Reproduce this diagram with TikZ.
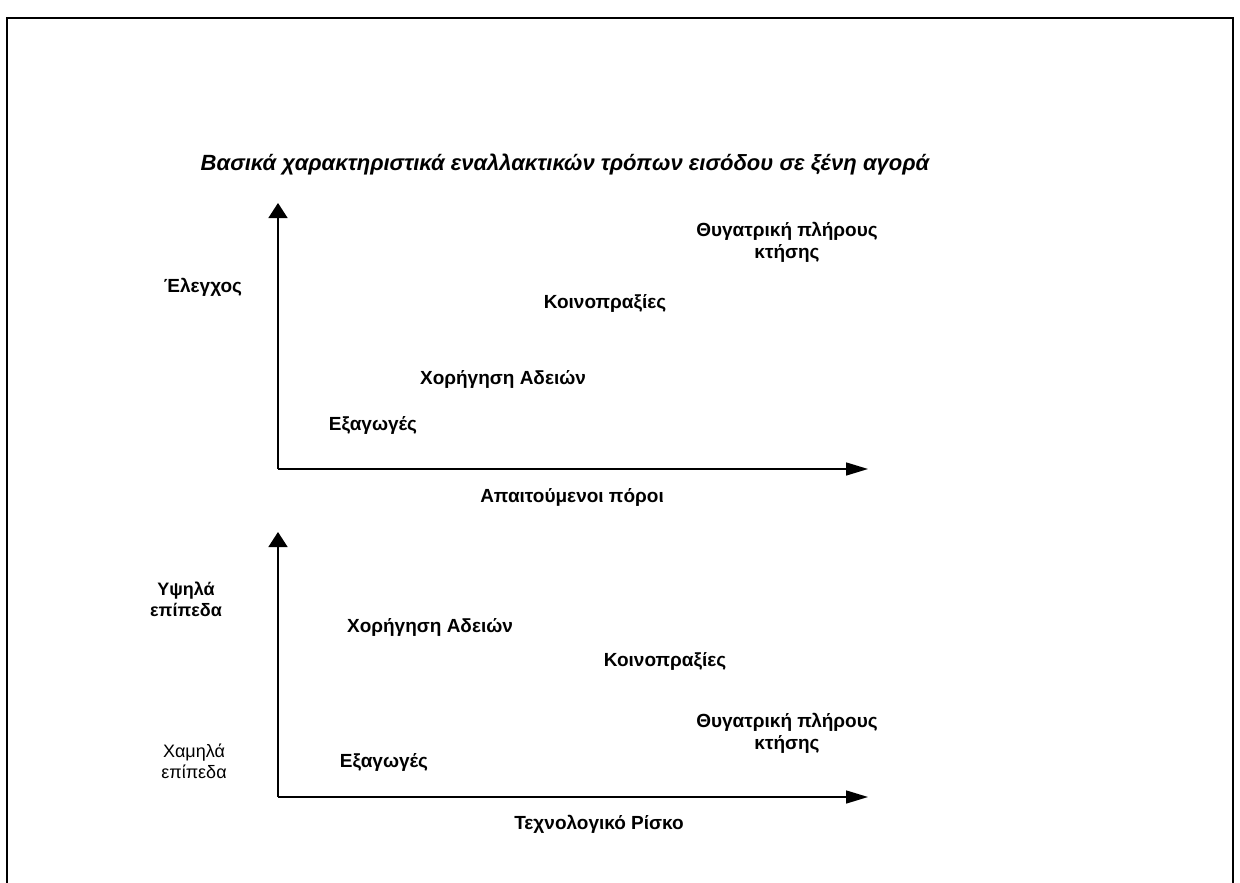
\documentclass[tikz,border=0pt]{standalone}
\usepackage{fontspec}
\setmainfont{Liberation Sans}
\usetikzlibrary{arrows.meta}
\tikzset{
  lbl/.style={font=\bfseries\fontsize{19}{22}\selectfont, align=center, inner sep=0pt},
  small/.style={font=\bfseries\fontsize{18}{21}\selectfont, align=center, inner sep=0pt},
  smallr/.style={font=\fontsize{18}{21}\selectfont, align=center, inner sep=0pt},
  vaxis/.style={line width=1.5pt, -{Triangle[length=15pt,width=19pt]}},
  haxis/.style={line width=1.5pt, -{Triangle[length=22pt,width=13pt]}},
  frame/.style={line width=1.8pt}
}
\begin{document}
\begin{tikzpicture}[x=1pt,y=-1pt]
\useasboundingbox (0,0) rectangle (1240,883);
\fill[white] (0,0) rectangle (1240,883);
\draw[frame] (7,883) -- (7,18) -- (1233,18) -- (1233,883);
\node[font=\bfseries\itshape\fontsize{22}{26}\selectfont, inner sep=0pt] (title) at (565,165) {Βασικά χαρακτηριστικά εναλλακτικών τρόπων εισόδου σε ξένη αγορά};
% upper chart
\coordinate (o1) at (278,469);
\coordinate (y1) at (278,203);
\coordinate (x1) at (868,469);
\draw[vaxis] (o1) -- (y1);
\draw[haxis] (o1) -- (x1);
\node[lbl] (elegxos) at (203,287) {Έλεγχος};
\node[lbl] (thyg1) at (787,242) {Θυγατρική πλήρους\\κτήσης};
\node[lbl] (koin1) at (605,303) {Κοινοπραξίες};
\node[lbl] (xor1) at (503,379) {Χορήγηση Αδειών};
\node[lbl] (exag1) at (373,425) {Εξαγωγές};
\node[lbl] (poroi) at (572,497) {Απαιτούμενοι πόροι};
% lower chart
\coordinate (o2) at (278,797);
\coordinate (y2) at (278,532);
\coordinate (x2) at (868,797);
\draw[vaxis] (o2) -- (y2);
\draw[haxis] (o2) -- (x2);
\node[small] (ypsila) at (186,599) {Υψηλά\\επίπεδα};
\node[smallr] (xamila) at (194,761) {Χαμηλά\\επίπεδα};
\node[lbl] (xor2) at (430,627) {Χορήγηση Αδειών};
\node[lbl] (koin2) at (665,661) {Κοινοπραξίες};
\node[lbl] (thyg2) at (787,733) {Θυγατρική πλήρους\\κτήσης};
\node[lbl] (exag2) at (384,762) {Εξαγωγές};
\node[lbl] (risko) at (599,824) {Τεχνολογικό Ρίσκο};
\end{tikzpicture}
\end{document}
